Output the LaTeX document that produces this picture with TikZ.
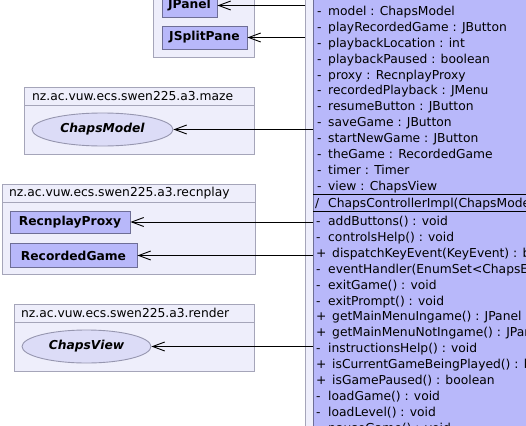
\documentclass[tikz,border=0pt]{standalone}
\usepackage{fontspec}
\setmainfont{DejaVu Sans}
\usetikzlibrary{shapes.geometric,arrows.meta}
\definecolor{clsfill}{RGB}{184,184,250}
\definecolor{clsdraw}{RGB}{110,110,150}
\definecolor{pkgfill}{RGB}{238,238,251}
\definecolor{pkgdraw}{RGB}{165,165,185}
\definecolor{ifcfill}{RGB}{220,220,247}
\definecolor{ifcdraw}{RGB}{150,150,175}
\begin{document}
\begin{tikzpicture}[x=1pt,y=-1pt,
  font=\fontsize{12.3}{14}\selectfont,
  pkg/.style={draw=pkgdraw,fill=pkgfill,line width=0.9pt},
  clsbox/.style={draw=clsdraw,fill=clsfill,line width=0.9pt,inner sep=0pt,font=\fontsize{12.3}{14}\selectfont\bfseries},
  ifc/.style={ellipse,draw=ifcdraw,fill=ifcfill,line width=0.9pt,inner sep=0pt,font=\fontsize{12.3}{14}\selectfont\bfseries\itshape},
  ptitle/.style={anchor=west,inner sep=0pt},
  row/.style={anchor=base west,inner sep=0pt},
  assoc/.style={draw=black,line width=1pt,-{Straight Barb[length=12pt,width=9pt,line width=0.9pt]}}
]
\useasboundingbox (0,0) rectangle (526,425);
\clip (0,0) rectangle (526,425);
\fill[white] (0,0) rectangle (526,425);

% javax.swing package (title out of view)
\draw[pkg] (153,-30) rectangle (254,57);
\node[clsbox,minimum width=55pt,minimum height=23pt] (jpanel) at (189.5,5.5) {JPanel};
\node[clsbox,minimum width=85pt,minimum height=23pt] (jsplit) at (204.5,37.5) {JSplitPane};

% maze package
\draw[pkg] (24,87) rectangle (254,154);
\draw[pkgdraw,line width=0.9pt] (24,105) -- (254,105);
\node[ptitle] (tmaze) at (32,96) {nz.ac.vuw.ecs.swen225.a3.maze};
\node[ifc,minimum width=141pt,minimum height=33pt] (model) at (102.5,129.5) {ChapsModel};

% recnplay package
\draw[pkg] (2,184) rectangle (255,274);
\draw[pkgdraw,line width=0.9pt] (2,202) -- (255,202);
\node[ptitle] (trec) at (9,193) {nz.ac.vuw.ecs.swen225.a3.recnplay};
\node[clsbox,minimum width=120pt,minimum height=22pt] (proxy) at (70,222) {RecnplayProxy};
\node[clsbox,minimum width=127pt,minimum height=24pt] (recgame) at (73.5,255.5) {RecordedGame};

% render package
\draw[pkg] (14,304) rectangle (254,371);
\draw[pkgdraw,line width=0.9pt] (14,322) -- (254,322);
\node[ptitle] (trender) at (21,313) {nz.ac.vuw.ecs.swen225.a3.render};
\node[ifc,minimum width=129pt,minimum height=33pt] (view) at (86.5,346.5) {ChapsView};

% controller package strip and class box
\draw[pkg] (305,-30) rectangle (560,460);
\draw[draw=clsdraw,fill=clsfill,line width=0.9pt] (313,-30) rectangle (560,460);
\draw[black,line width=1pt] (313,194) -- (560,194);
\draw[black,line width=1pt] (313,211) -- (560,211);

\foreach \v/\o/\t [count=\i from 0] in {
  -/328/model : ChapsModel,
  -/328/playRecordedGame : JButton,
  -/328/playbackLocation : int,
  -/328/playbackPaused : boolean,
  -/328/proxy : RecnplayProxy,
  -/328/recordedPlayback : JMenu,
  -/328/resumeButton : JButton,
  -/328/saveGame : JButton,
  -/328/startNewGame : JButton,
  -/328/theGame : RecordedGame,
  -/328/timer : Timer,
  -/328/view : ChapsView}
{
  \node[row] (fs\i) at (317,{11+15.9*\i+4.5}) {\v};
  \node[row] (ft\i) at (\o,{11+15.9*\i+4.5}) {\t};
}
\node[row] (cs) at (315,207) {/};
\node[row] (ct) at (328,207) {ChapsControllerImpl(ChapsModel{,} ChapsView)};

\foreach \v/\o/\t [count=\i from 0] in {
  -/328/addButtons() : void,
  -/328/controlsHelp() : void,
  +/332/dispatchKeyEvent(KeyEvent) : boolean,
  -/328/eventHandler(EnumSet<ChapsEvent>) : void,
  -/328/exitGame() : void,
  -/328/exitPrompt() : void,
  +/332/getMainMenuIngame() : JPanel,
  +/332/getMainMenuNotIngame() : JPanel,
  -/328/instructionsHelp() : void,
  +/332/isCurrentGameBeingPlayed() : boolean,
  +/332/isGamePaused() : boolean,
  -/328/loadGame() : void,
  -/328/loadLevel() : void,
  -/328/pauseGame() : void}
{
  \node[row] (ms\i) at (316,{221+15.9*\i+4.5}) {\v};
  \node[row] (mt\i) at (\o,{221+15.9*\i+4.5}) {\t};
}

% connector start points on the class side
\coordinate (c1) at (305,5.5);
\coordinate (c2) at (305,37.5);
\coordinate (c3) at (313,129.5);
\coordinate (c4) at (313,222);
\coordinate (c5) at (313,255.5);
\coordinate (c6) at (313,346.5);

\draw[assoc] (c1) -- (jpanel);
\draw[assoc] (c2) -- (jsplit);
\draw[assoc] (c3) -- (model);
\draw[assoc] (c4) -- (proxy);
\draw[assoc] (c5) -- (recgame);
\draw[assoc] (c6) -- (view);
\end{tikzpicture}
\end{document}
